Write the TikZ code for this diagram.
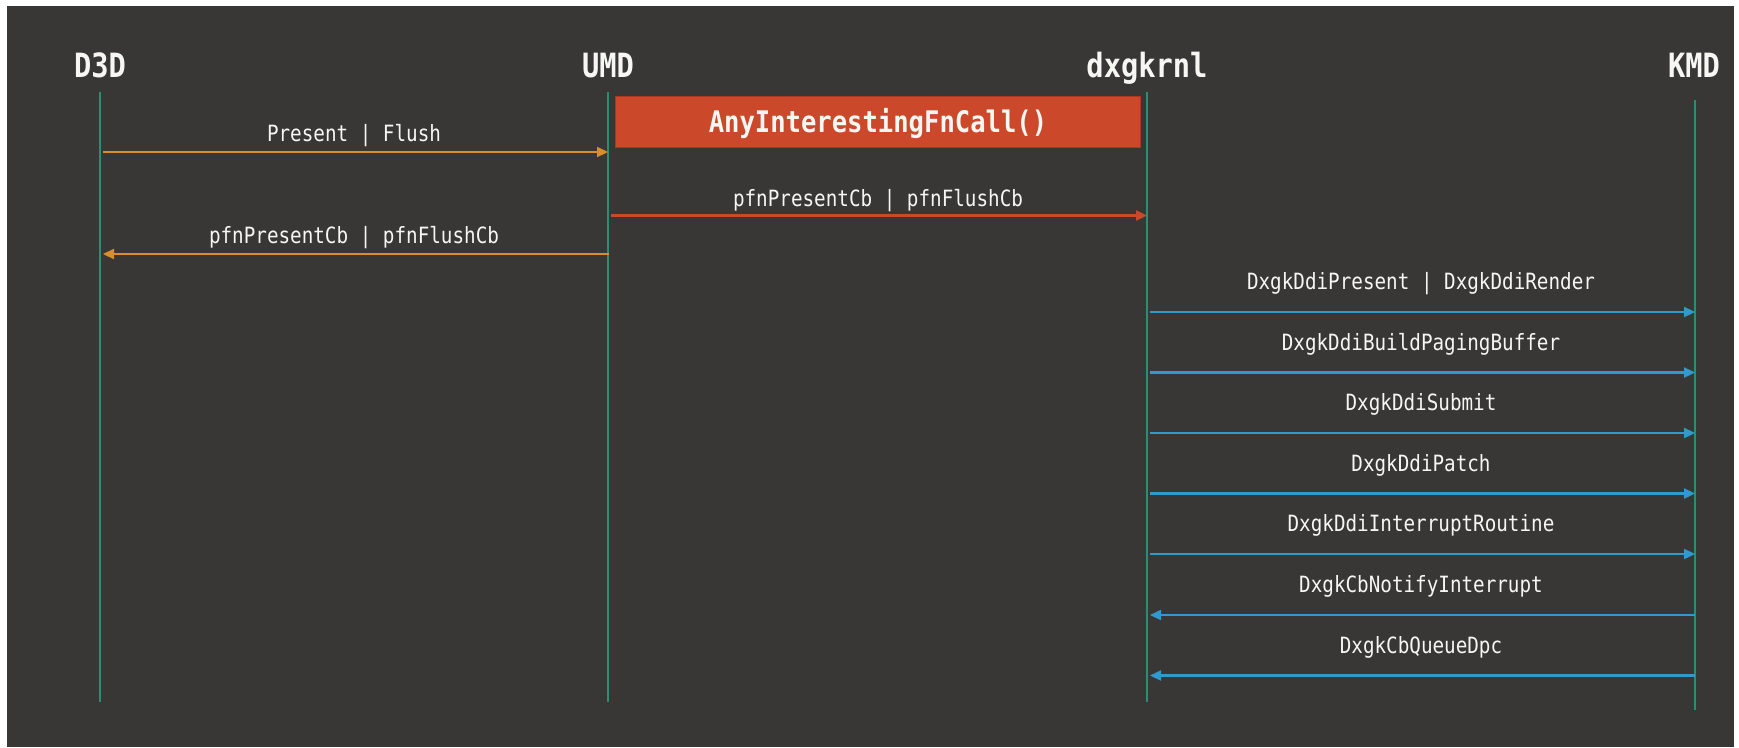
\documentclass[tikz,border=0pt]{standalone}
\usepackage{fontspec}
\newfontfamily\monof[FakeStretch=0.86]{DejaVu Sans Mono}
\usetikzlibrary{arrows.meta}
\definecolor{bgc}{HTML}{393735}
\definecolor{lifec}{HTML}{2B8E72}
\definecolor{orangec}{HTML}{D98E28}
\definecolor{redc}{HTML}{CB482B}
\definecolor{redborder}{HTML}{A8381F}
\definecolor{bluec}{HTML}{3399CC}
\definecolor{txtc}{HTML}{F6F6F2}
\tikzset{
  hdr/.style={anchor=base, inner sep=0pt, text=txtc, font=\monof\bfseries\fontsize{33.4}{40}\selectfont},
  lbl/.style={anchor=base, inner sep=0pt, text=txtc, font=\monof\fontsize{22.4}{27}\selectfont},
  lifeline/.style={draw=lifec, line width=2.2pt},
  msg/.style={line width=2.2pt, -{Triangle[length=11pt,width=10pt]}},
  callbox/.style={fill=redc, draw=redborder, line width=1pt, minimum width=524.5pt, minimum height=51pt,
    inner sep=0pt, text height=22pt, text depth=0pt, text=txtc, font=\monof\bfseries\fontsize{29.7}{35}\selectfont}
}
\begin{document}
\begin{tikzpicture}[x=1pt,y=-1pt]
\fill[white] (0,0) rectangle (1739,747);
\useasboundingbox (0,0) rectangle (1739,747);
\fill[bgc] (7,6) rectangle (1734,747);

% headers
\node[hdr] (hD3D) at (100,77) {D3D};
\node[hdr] (hUMD) at (608,77) {UMD};
\node[hdr] (hDXG) at (1147,77) {dxgkrnl};
\node[hdr] (hKMD) at (1694,77) {KMD};

% lifelines
\coordinate (D3Dt) at (100,92);  \coordinate (D3Db) at (100,702);
\coordinate (UMDt) at (608,92);  \coordinate (UMDb) at (608,702);
\coordinate (DXGt) at (1147,92); \coordinate (DXGb) at (1147,702);
\coordinate (KMDt) at (1695,100); \coordinate (KMDb) at (1695,710);
\draw[lifeline] (D3Dt) -- (D3Db);
\draw[lifeline] (UMDt) -- (UMDb);
\draw[lifeline] (DXGt) -- (DXGb);
\draw[lifeline] (KMDt) -- (KMDb);

% call box
\node[callbox] (call) at (878,121.5) {AnyInterestingFnCall()};

% messages D3D <-> UMD <-> dxgkrnl
\draw[msg, orangec, shorten <=3pt] (D3Dt |- 0,152) -- (UMDt |- 0,152);
\node[lbl] (l1) at (354,141) {Present | Flush};

\draw[msg, redc, shorten <=3pt] (UMDt |- 0,215.5) -- (DXGt |- 0,215.5);
\node[lbl] (l2) at (878,206) {pfnPresentCb | pfnFlushCb};

\draw[msg, orangec, shorten <=-1pt, shorten >=3pt] (UMDt |- 0,254) -- (D3Dt |- 0,254);
\node[lbl] (l3) at (354,243) {pfnPresentCb | pfnFlushCb};

% dxgkrnl <-> KMD
\foreach \y/\t [count=\i] in {312/{DxgkDdiPresent | DxgkDdiRender}, 372.5/DxgkDdiBuildPagingBuffer,
   433/DxgkDdiSubmit, 493.5/DxgkDdiPatch, 554/DxgkDdiInterruptRoutine}{
  \draw[msg, bluec, shorten <=3pt] (DXGt |- 0,\y) -- (KMDt |- 0,\y);
  \node[lbl] (b\i) at (1421,\y-22.5) {\t};
}
\foreach \y/\t [count=\i from 6] in {615/DxgkCbNotifyInterrupt, 675.5/DxgkCbQueueDpc}{
  \draw[msg, bluec, shorten >=3pt] (KMDt |- 0,\y) -- (DXGt |- 0,\y);
  \node[lbl] (b\i) at (1421,\y-22.5) {\t};
}
\end{tikzpicture}
\end{document}
